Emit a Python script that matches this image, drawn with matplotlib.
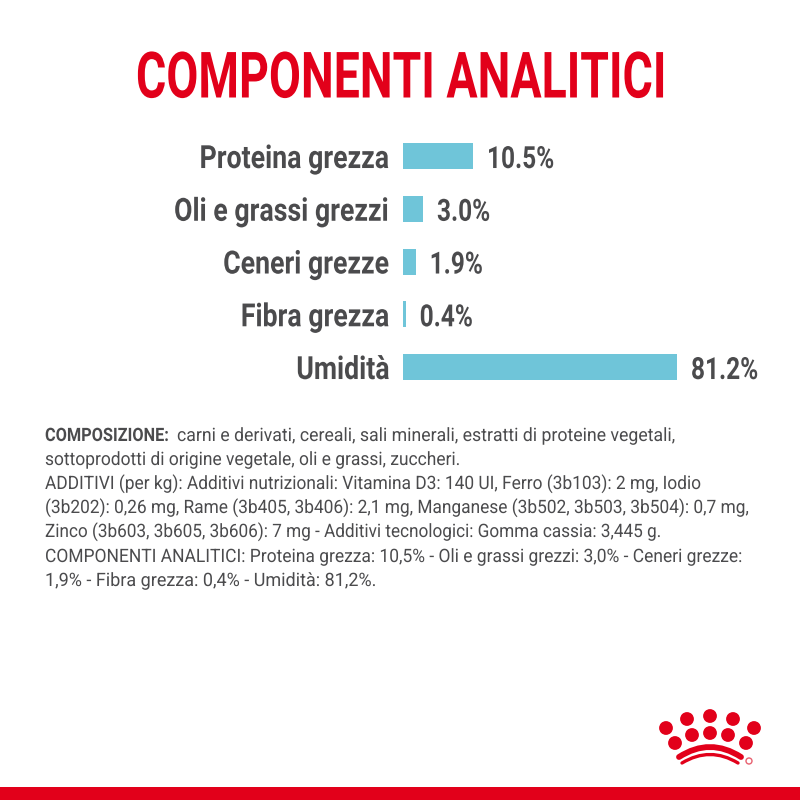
import matplotlib
matplotlib.use("Agg")
import matplotlib.pyplot as plt
from matplotlib.patches import Circle, Rectangle, PathPatch
from matplotlib.path import Path
from matplotlib.patheffects import AbstractPathEffect
from matplotlib.transforms import Affine2D

categories = ["Proteina grezza", "Oli e grassi grezzi", "Ceneri grezze", "Fibra grezza", "Umidità"]
values = [10.5, 3.0, 1.9, 0.4, 81.2]
value_labels = ["10.5%", "3.0%", "1.9%", "0.4%", "81.2%"]
title = "COMPONENTI ANALITICI"
bold_prefix = "COMPOSIZIONE:"
body_lines = [
    "carni e derivati, cereali, sali minerali, estratti di proteine vegetali,",
    "sottoprodotti di origine vegetale, oli e grassi, zuccheri.",
    "ADDITIVI (per kg): Additivi nutrizionali: Vitamina D3: 140 UI, Ferro (3b103): 2 mg, Iodio",
    "(3b202): 0,26 mg, Rame (3b405, 3b406): 2,1 mg, Manganese (3b502, 3b503, 3b504): 0,7 mg,",
    "Zinco (3b603, 3b605, 3b606): 7 mg - Additivi tecnologici: Gomma cassia: 3,445 g.",
    "COMPONENTI ANALITICI: Proteina grezza: 10,5% - Oli e grassi grezzi: 3,0% - Ceneri grezze:",
    "1,9% - Fibra grezza: 0,4% - Umidità: 81,2%.",
]

RED = "#e2001a"
GREY = "#4b4b4d"
BLUE = "#6fc5d9"
plt.rcParams["font.family"] = ["Roboto", "DejaVu Sans"]


class Squeeze(AbstractPathEffect):
    # no condensed font installed, so narrow the glyphs around a pixel x
    def __init__(self, sx, x0):
        super().__init__()
        self.sx = sx
        self.x0 = x0

    def draw_path(self, renderer, gc, tpath, affine, rgbFace=None):
        squeeze = Affine2D().translate(-self.x0, 0).scale(self.sx, 1).translate(self.x0, 0)
        renderer.draw_path(gc, tpath, affine + squeeze, rgbFace)


fig = plt.figure(figsize=(8, 8), dpi=100, facecolor="white")

# overlay in pixel coords for the title, text block and logo
bg = fig.add_axes([0, 0, 1, 1])
bg.set_xlim(0, 800)
bg.set_ylim(800, 0)
bg.axis("off")

bg.text(401, 97.5, title, color=RED, fontsize=46, fontweight="bold", ha="center", va="baseline",
        path_effects=[Squeeze(0.726, 401)])

# the long bar is cut by the axes edge, same as the original
ax = fig.add_axes([403 / 800, 1 - 393.4 / 800, 274 / 800, 263.75 / 800])
ax.barh(range(len(values)), values, height=0.493, color=BLUE)
ax.set_xlim(0, 41.1)
ax.set_ylim(4.5, -0.5)
ax.set_yticks(range(len(categories)))
ax.set_yticklabels(categories, fontsize=23, fontweight="bold", color=GREY, va="center_baseline")
ax.tick_params(axis="y", length=0, pad=9.4)
ax.xaxis.set_visible(False)
for s in ax.spines.values():
    s.set_visible(False)
for lab in ax.get_yticklabels():
    lab.set_path_effects([Squeeze(0.836, 390)])
for i, v in enumerate(values):
    end = min(v, 41.1)
    x_px = ax.transData.transform((end, i))[0] + 14
    ax.annotate(value_labels[i], (end, i), xytext=(14 * 0.72, 0), textcoords="offset points",
                va="center_baseline", ha="left", fontsize=22, fontweight="bold", color=GREY,
                annotation_clip=False, path_effects=[Squeeze(0.8, x_px)])

# composition text, each line fitted to its width in the reference
line_y = [441, 465, 489, 513, 537, 562, 586]
line_left = [177, 45, 45, 45, 45, 45, 45]
line_right = [677, 462, 702, 750, 663, 743, 377]
size = 13.3
first = bg.text(45, line_y[0], bold_prefix, fontsize=size, fontweight="bold", color=GREY, va="baseline")
fig.canvas.draw()
first.set_path_effects([Squeeze((169 - 45) / first.get_window_extent().width, 45)])
for y, x0, x1, line in zip(line_y, line_left, line_right, body_lines):
    t = bg.text(x0, y, line, fontsize=size, color=GREY, va="baseline")
    t.set_path_effects([Squeeze((x1 - x0) / t.get_window_extent(fig.canvas.get_renderer()).width, x0)])

# crown logo
dots = [(666, 728), (687, 719), (710, 716), (733, 719), (754, 728),
        (675, 743), (692, 735), (710, 733), (728, 735), (746, 743)]
for c in dots:
    bg.add_patch(Circle(c, 6.9, color=RED, lw=0))
band = Path([(679, 757), (710, 737), (741, 757)], [Path.MOVETO, Path.CURVE3, Path.CURVE3])
bg.add_patch(PathPatch(band, fc="none", ec=RED, lw=4.2, capstyle="round"))
band2 = Path([(682, 763), (710, 746), (738, 763)], [Path.MOVETO, Path.CURVE3, Path.CURVE3])
bg.add_patch(PathPatch(band2, fc="none", ec=RED, lw=2.4, capstyle="round"))
bg.add_patch(Circle((749, 761), 3, fc="none", ec="#e8606f", lw=1))

bg.add_patch(Rectangle((0, 786.5), 800, 13.5, color=RED, lw=0))

fig.savefig("out.png", dpi=100)
